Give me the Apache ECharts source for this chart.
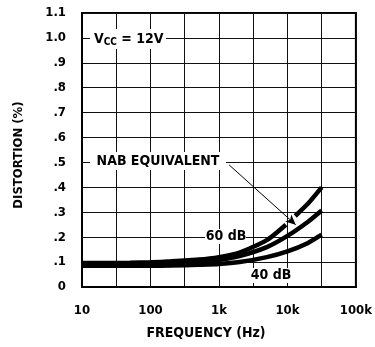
<!DOCTYPE html>
<html>
<head>
<meta charset="utf-8">
<script src="https://cdn.jsdelivr.net/npm/echarts@6/dist/echarts.min.js"></script>
<style>
html,body{margin:0;padding:0;background:#fff;}
#c{width:375px;height:347px;}
</style>
</head>
<body>
<div id="c"></div>
<script>
// ---- data ----
const xTickValues = [10, 100, 1000, 10000, 100000];
const xTickLabels = ['10', '100', '1k', '10k', '100k'];
const yTickLabels = ['0', '.1', '.2', '.3', '.4', '.5', '.6', '.7', '.8', '.9', '1.0', '1.1'];

// 60 dB curve (upper), broken where the arrow passes
const freq60 = [10, 20, 50, 100, 200, 500, 1000, 2000, 5000, 9500, 11000, 13000, 20000, 31600];
const dist60 = [0.096, 0.096, 0.097, 0.099, 0.103, 0.110, 0.120, 0.138, 0.188, 0.250, null, 0.285, 0.335, 0.400];

// NAB equivalent (middle)
const freqNab = [10, 20, 50, 100, 200, 500, 1000, 2000, 5000, 10000, 20000, 31600];
const distNab = [0.090, 0.090, 0.091, 0.092, 0.095, 0.100, 0.108, 0.124, 0.160, 0.205, 0.262, 0.307];

// 40 dB curve (lower)
const freq40 = [10, 20, 50, 100, 200, 500, 1000, 2000, 5000, 10000, 20000, 31600];
const dist40 = [0.085, 0.085, 0.085, 0.085, 0.086, 0.089, 0.092, 0.100, 0.120, 0.143, 0.177, 0.210];

// arrow annotation (data coords)
const arrowFrom = [1410, 0.49];
const arrowTo = [13200, 0.25];

const FONT = "'DejaVu Sans Condensed', 'Liberation Sans Narrow', 'Liberation Sans', sans-serif";

function pairs(xs, ys) {
  return xs.map((x, i) => [x, ys[i] === null ? '-' : ys[i]]);
}

const chart = echarts.init(document.getElementById('c'), null, {renderer: 'canvas'});

const curveStyle = {color: '#000', width: 4.5};

chart.setOption({
  animation: false,
  backgroundColor: '#fff',
  grid: {left: 82, right: 17, top: 13, bottom: 60, show: true, borderColor: '#000', borderWidth: 2, backgroundColor: 'transparent'},
  xAxis: [{
    type: 'log', logBase: 10, min: 10, max: 100000,
    axisLine: {show: true, lineStyle: {color: '#000', width: 2}},
    axisTick: {show: false},
    splitLine: {show: false},
    axisLabel: {
      margin: 17, color: '#000', fontFamily: FONT, fontWeight: 'bold', fontSize: 13,
      formatter: v => { const i = xTickValues.indexOf(Math.round(v)); return i >= 0 ? xTickLabels[i] : ''; }
    }
  }, {
    // half-decade grid lines (log10 space)
    type: 'value', min: 1, max: 5, interval: 0.5, position: 'bottom',
    axisLine: {show: false}, axisTick: {show: false}, axisLabel: {show: false},
    splitLine: {show: true, lineStyle: {color: '#111', width: 1}}
  }],
  yAxis: {
    type: 'value', min: 0, max: 1.1, interval: 0.1,
    axisLine: {show: true, lineStyle: {color: '#000', width: 2}},
    axisTick: {show: false},
    splitLine: {show: true, lineStyle: {color: '#111', width: 1}},
    axisLabel: {
      margin: 16, color: '#000', fontFamily: FONT, fontWeight: 'bold', fontSize: 13,
      formatter: v => yTickLabels[Math.round(v * 10)]
    }
  },
  graphic: [
    {type: 'rect', z: 1, shape: {x: 90, y: 29, width: 76, height: 20}, style: {fill: '#fff'}},
    {type: 'text', z: 2, x: 94, y: 39, style: {
      text: '{n|V}{s|CC}{n| = 12V}', verticalAlign: 'middle', fill: '#000',
      rich: {
        n: {fontFamily: FONT, fontWeight: 'bold', fontSize: 14, fill: '#000'},
        s: {fontFamily: FONT, fontWeight: 'bold', fontSize: 10, fill: '#000', verticalAlign: 'bottom', padding: [6, 0, 0, 0]}
      }
    }},
    {type: 'rect', z: 1, shape: {x: 90, y: 152, width: 136, height: 18}, style: {fill: '#fff'}},
    {type: 'text', z: 2, x: 158, y: 161, style: {text: 'NAB EQUIVALENT', align: 'center', verticalAlign: 'middle', fill: '#000', fontFamily: FONT, fontWeight: 'bold', fontSize: 14}},
    {type: 'rect', z: 1, shape: {x: 205, y: 229, width: 41, height: 15}, style: {fill: '#fff'}},
    {type: 'text', z: 2, x: 226, y: 236, style: {text: '60 dB', align: 'center', verticalAlign: 'middle', fill: '#000', fontFamily: FONT, fontWeight: 'bold', fontSize: 14}},
    {type: 'rect', z: 1, shape: {x: 251, y: 268, width: 40, height: 15}, style: {fill: '#fff'}},
    {type: 'text', z: 2, x: 271, y: 275, style: {text: '40 dB', align: 'center', verticalAlign: 'middle', fill: '#000', fontFamily: FONT, fontWeight: 'bold', fontSize: 14}},
    {type: 'text', z: 2, x: 206, y: 333, style: {text: 'FREQUENCY (Hz)', align: 'center', verticalAlign: 'middle', fill: '#000', fontFamily: FONT, fontWeight: 'bold', fontSize: 14}},
    {type: 'text', z: 2, x: 19, y: 155, rotation: Math.PI / 2, style: {text: 'DISTORTION (%)', align: 'center', verticalAlign: 'middle', fill: '#000', fontFamily: FONT, fontWeight: 'bold', fontSize: 13}}
  ],
  series: [
    {type: 'line', name: '60 dB', data: pairs(freq60, dist60), smooth: 0.2, showSymbol: false, connectNulls: false, lineStyle: curveStyle, z: 3},
    {type: 'line', name: 'NAB', data: pairs(freqNab, distNab), smooth: 0.2, showSymbol: false, lineStyle: curveStyle, z: 3,
      markLine: {
        silent: true, symbol: ['none', 'arrow'], symbolSize: [7, 10],
        lineStyle: {color: '#000', width: 1, type: 'solid'},
        label: {show: false},
        data: [[{coord: arrowFrom}, {coord: arrowTo}]]
      }},
    {type: 'line', name: '40 dB', data: pairs(freq40, dist40), smooth: 0.2, showSymbol: false, lineStyle: curveStyle, z: 3}
  ]
});
</script>
</body>
</html>
